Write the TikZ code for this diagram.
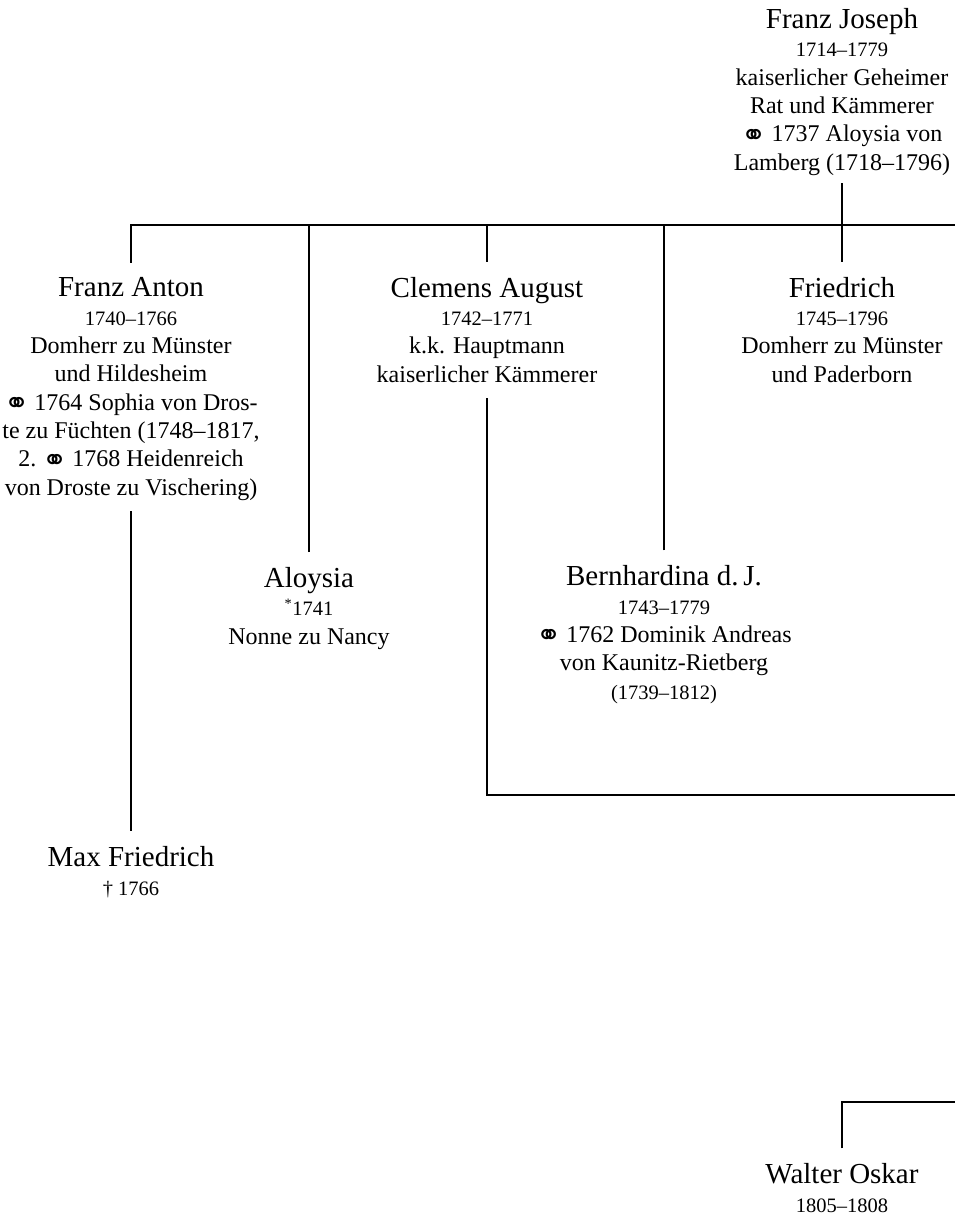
\documentclass[tikz,border=0pt]{standalone}
\usepackage{fontspec}
\setmainfont{Liberation Serif}
\newfontfamily\symfont{DejaVu Sans}
% marriage sign, set on the baseline of the surrounding text
\newcommand\ringsym{\smash{\raisebox{-3.5pt}{\symfont\fontsize{30}{28.3}\selectfont ⚭}}\hspace{-1pt}}
\newcommand\nm{\fontsize{29}{28.3}\selectfont}
\newcommand\yr{\fontsize{20.5}{28.3}\selectfont}
\begin{document}
\begin{tikzpicture}[x=1pt,y=-1pt,
  % each person is placed by the baseline of its last line
  person/.style={align=center,anchor=base,inner sep=0pt,
    font=\fontsize{24}{28.3}\selectfont},
  link/.style={line width=1.1pt}]
\useasboundingbox (0,0) rectangle (955,1219);

% people
\node[person] (fj) at (842,170) {{\nm Franz Joseph}\\{\yr 1714–1779}\\kaiserlicher Geheimer\\Rat und Kämmerer\\\ringsym\ 1737 Aloysia von\\Lamberg (1718–1796)};
\node[person] (fa) at (131,495) {{\nm Franz Anton}\\{\yr 1740–1766}\\Domherr zu Münster\\und Hildesheim\\\ringsym\ 1764 Sophia von Dros-\\te zu Füchten (1748–1817,\\2.~\ringsym\ 1768 Heidenreich\\von Droste zu Vischering)};
\node[person] (ca) at (487,382) {{\nm Clemens August}\\{\yr 1742–1771}\\k.k. Hauptmann\\kaiserlicher Kämmerer};
\node[person] (fr) at (842,382) {{\nm Friedrich}\\{\yr 1745–1796}\\Domherr zu Münster\\und Paderborn};
\node[person] (al) at (309,644) {{\nm Aloysia}\\{\yr \textsuperscript{*}1741}\\Nonne zu Nancy};
\node[person] (be) at (664,699) {{\nm Bernhardina d.\,J.}\\{\yr 1743–1779}\\\ringsym\ 1762 Dominik Andreas\\von Kaunitz-Rietberg\\{\yr (1739–1812)}};
\node[person] (mf) at (131,895) {{\nm Max Friedrich}\\{\yr † 1766}};
\node[person] (wo) at (842,1212) {{\nm Walter Oskar}\\{\yr 1805–1808}};

% free ends at the right margin
\coordinate (busR) at (955,225);
\coordinate (caR) at (955,795);
\coordinate (woR) at (955,1102);

% connectors
\draw[link] ([yshift=-8pt]fj.south) -- ([yshift=15pt]fr.north);
\draw[link] ([yshift=15pt]fa.north) |- (busR);
\draw[link] ([yshift=15pt]al.north) -- (al.north |- busR);
\draw[link] ([yshift=15pt]ca.north) -- (ca.north |- busR);
\draw[link] ([yshift=15pt]be.north) -- (be.north |- busR);
\draw[link] ([yshift=-16pt]ca.south) |- (caR);
\draw[link] ([yshift=-11pt]fa.south) -- ([yshift=15pt]mf.north);
\draw[link] ([yshift=15pt]wo.north) |- (woR);
\end{tikzpicture}
\end{document}
